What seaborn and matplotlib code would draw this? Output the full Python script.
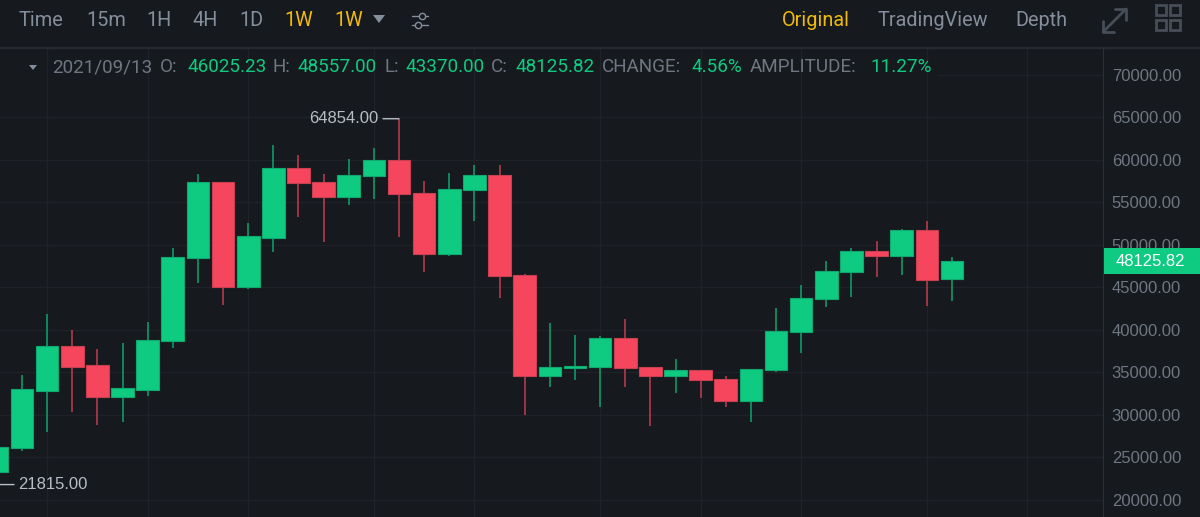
import matplotlib
matplotlib.use('Agg')
import matplotlib.pyplot as plt
import pandas as pd
import seaborn as sns
from matplotlib.patches import Polygon, Rectangle

week = list(range(39))
opens = [23329, 26153, 32859, 38154, 35840, 32153, 32938, 38664, 48469, 57450, 45018, 50822, 59019,
         57372, 55646, 58078, 60039, 56156, 48939, 56470, 58274, 46429, 34546, 35489, 35685, 39018,
         35606, 34547, 35292, 34273, 31645, 35253, 39724, 43685, 46862, 49254, 48666, 51764, 46025.23]
highs = [27000, 34702, 41880, 40036, 37762, 38468, 40899, 49645, 58313, 57450, 52587, 61764, 60549,
         58352, 60156, 61451, 64854, 57489, 58431, 59450, 59450, 46625, 40782, 39411, 39293, 41254,
         35685, 36547, 35292, 34587, 35371, 42548, 45254, 48078, 49686, 50431, 51882, 52862, 48557]
lows = [21815, 25800, 28035, 30388, 28820, 29212, 32271, 37919, 45567, 42978, 44860, 49214, 53254,
        50391, 54744, 55411, 50900, 46861, 48743, 52862, 43763, 29952, 33330, 34116, 30978, 33292,
        28743, 32625, 32037, 30978, 29213, 35096, 37292, 42744, 43881, 46234, 46470, 42822, 43370]
closes = [26270, 33016, 38154, 35683, 32153, 33134, 38820, 48625, 57450, 45018, 51018, 59019, 57254,
          55646, 58235, 60039, 56038, 48939, 56627, 58274, 46312, 34546, 35644, 35802, 39018, 35489,
          34547, 35292, 34155, 31645, 35371, 39842, 43802, 46979, 49254, 48666, 51764, 45881, 48125.82]
price_ticks = [20000, 25000, 30000, 35000, 40000, 45000, 50000, 55000, 60000, 65000, 70000]
grid_weeks = [2, 6, 10, 15, 19, 24, 28, 32, 37, 41]

BG = '#161a1e'
GRID = '#1f2329'
GREEN = '#0ecb81'
RED = '#f6465d'
GREY = '#6f7682'
YELLOW = '#f0b90b'

sns.set_style('dark', {'axes.facecolor': BG, 'figure.facecolor': BG, 'axes.edgecolor': '#2a2e35',
                       'grid.color': GRID})
plt.rcParams['font.family'] = ['Liberation Sans', 'DejaVu Sans']

df = pd.DataFrame({'week': week, 'open': opens, 'high': highs, 'low': lows, 'close': closes})
df['top'] = df[['open', 'close']].max(axis=1)
df['bottom'] = df[['open', 'close']].min(axis=1)
df['body'] = df['top'] - df['bottom']
df['up'] = df['close'] >= df['open']

fig = plt.figure(figsize=(12, 5.17), dpi=100)
ax = fig.add_axes([0, 0, 1103 / 1200, 469 / 517])

ax.vlines(grid_weeks, 0, 1, transform=ax.get_xaxis_transform(), color=GRID, lw=1, zorder=0)
ax.hlines(price_ticks[:-1], 0, 1, transform=ax.get_yaxis_transform(), color=GRID, lw=1, zorder=0)
# top line only shows right of the info row
ax.hlines(price_ticks[-1], 937 / 1103, 1, transform=ax.get_yaxis_transform(), color=GRID, lw=1, zorder=0)

for up, color, edge, wick in [(True, GREEN, '#0fa96f', '#0da56c'), (False, RED, '#c93f52', '#c23c50')]:
    sub = df[df['up'] == up]
    ax.vlines(sub['week'], sub['low'], sub['high'], color=wick, lw=1.1, zorder=2)
    sns.barplot(data=sub, x='week', y='body', bottom=sub['bottom'].values, native_scale=True,
                color=color, saturation=1, width=0.9, edgecolor=edge, linewidth=0.8,
                errorbar=None, ax=ax, zorder=3)

ax.set_xlim(0.1247, 44.008)
ax.set_ylim(17999, 73176)
ax.set_xlabel('')
ax.set_ylabel('')
ax.set_xticks([])
ax.set_yticks(price_ticks)
ax.set_yticklabels(['%.2f' % p for p in price_ticks])
ax.yaxis.tick_right()
ax.tick_params(axis='y', length=4.3, width=1, color='#565c66', labelcolor=GREY, labelsize=12, pad=2, right=True)
ax.grid(False)
sns.despine(ax=ax, left=True, top=True, bottom=True, right=False)

# high / low markers
ax.annotate('64854.00', xy=(16, 64854), xytext=(-21, 0), textcoords='offset pixels', ha='right',
            va='center', color='#b7bdc6', fontsize=12, zorder=6)
ax.annotate('', xy=(16, 64854), xytext=(-16, 0), textcoords='offset pixels',
            arrowprops=dict(arrowstyle='-', color='#b7bdc6', lw=1, shrinkA=0, shrinkB=0))
ax.annotate('21815.00', xy=(0.1247, 21815), xytext=(18, 0), textcoords='offset pixels', ha='left',
            va='center', color='#b7bdc6', fontsize=12, zorder=6, annotation_clip=False)
ax.annotate('', xy=(0.1247, 21815), xytext=(14, 0), textcoords='offset pixels', annotation_clip=False,
            arrowprops=dict(arrowstyle='-', color='#b7bdc6', lw=1, shrinkA=0, shrinkB=0))

# overlay in pixel units for the toolbar and info row
ui = fig.add_axes([0, 0, 1, 1], facecolor='none')
ui.set_xlim(0, 1200)
ui.set_ylim(517, 0)
ui.axis('off')
ui.add_patch(Rectangle((0, 0), 1200, 47, color=BG, lw=0))
ui.plot([0, 1200], [47.5, 47.5], color='#2a2e35', lw=1.2)

UI_FONT = ['Roboto', 'DejaVu Sans']
for label, x, color in [('Time', 19, '#848e9c'), ('15m', 86, '#848e9c'), ('1H', 146, '#848e9c'),
                        ('4H', 192, '#848e9c'), ('1D', 239, '#848e9c'), ('1W', 284, YELLOW),
                        ('1W', 334, YELLOW), ('Original', 782, YELLOW), ('TradingView', 878, '#848e9c'),
                        ('Depth', 1015, '#848e9c')]:
    ui.text(x, 21, label, color=color, fontsize=14.3, family=UI_FONT, va='center', ha='left')

ui.add_patch(Polygon([(373, 15), (385, 15), (379, 23)], color='#848e9c', lw=0))
for y, cx in [(16, 422), (25, 418)]:
    ui.plot([412, 428], [y, y], color='#848e9c', lw=1)
    ui.plot([cx], [y], 'o', ms=4.5, mfc=BG, mec='#848e9c', mew=1)

ui.plot([1103, 1126], [32, 9], color='#474d57', lw=2)
ui.plot([1115, 1126, 1126], [9, 9, 20], color='#474d57', lw=2)
ui.plot([1103, 1103, 1114], [21, 32, 32], color='#474d57', lw=2)
for x0 in [1156, 1170]:
    for y0 in [5, 20]:
        ui.add_patch(Rectangle((x0, y0), 10, 10, fc='none', ec='#474d57', lw=2))

ui.add_patch(Polygon([(29, 65), (37, 65), (33, 70)], color='#848e9c', lw=0))
for label, x, color in [('2021/09/13', 52, GREY), ('O:', 160, GREY), ('46025.23', 187, GREEN),
                        ('H:', 272, GREY), ('48557.00', 298, GREEN), ('L:', 384, GREY),
                        ('43370.00', 406, GREEN), ('C:', 491, GREY), ('48125.82', 516, GREEN),
                        ('CHANGE:', 602, GREY), ('4.56%', 692, GREEN), ('AMPLITUDE:', 750, GREY),
                        ('11.27%', 870, GREEN)]:
    ui.text(x, 67, label, color=color, fontsize=13.6, family=UI_FONT, va='center', ha='left')

# current price tag
ui.add_patch(Rectangle((1104, 248), 96, 26, color=GREEN, lw=0))
ui.text(1150.5, 261, '48125.82', color='white', fontsize=12, ha='center', va='center')

plt.savefig('out.png', dpi=100, facecolor=BG)
